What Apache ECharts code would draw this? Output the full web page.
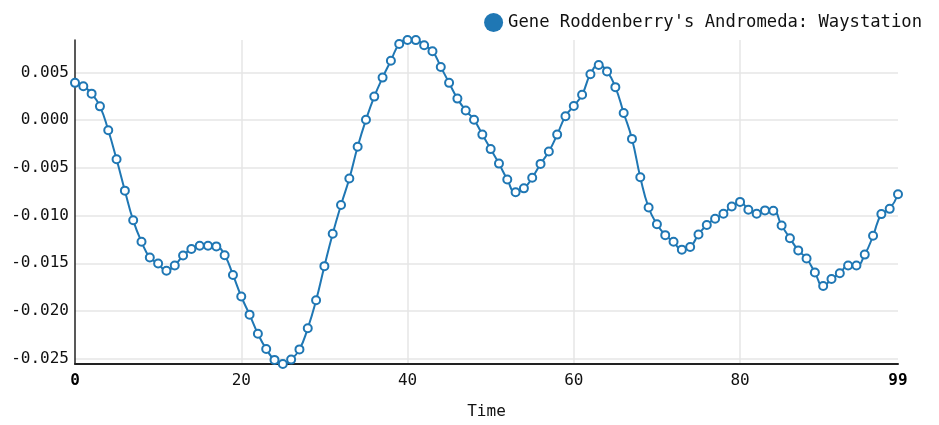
<!DOCTYPE html>
<html>
<head>
<meta charset="utf-8">
<script src="https://cdn.jsdelivr.net/npm/echarts@6/dist/echarts.min.js"></script>
<style>html,body{margin:0;padding:0;background:#fff;}#chart{width:939px;height:425px;}</style>
</head>
<body>
<div id="chart"></div>
<script>
const seriesName = "Gene Roddenberry's Andromeda: Waystation";
const xLabel = "Time";
const timeValues = [];
for (let i = 0; i < 100; i++) timeValues.push(i);
const waystation = [
  0.00390, 0.00355, 0.00277, 0.00144, -0.00107, -0.00411, -0.00739, -0.01050, -0.01275, -0.01440,
  -0.01502, -0.01579, -0.01523, -0.01419, -0.01350, -0.01316, -0.01316, -0.01323, -0.01416, -0.01622,
  -0.01848, -0.02038, -0.02239, -0.02398, -0.02512, -0.02555, -0.02509, -0.02402, -0.02180, -0.01888,
  -0.01530, -0.01191, -0.00889, -0.00612, -0.00280, 0.00003, 0.00246, 0.00445, 0.00622, 0.00797,
  0.00839, 0.00838, 0.00784, 0.00722, 0.00557, 0.00390, 0.00225, 0.00100, 0.00003, -0.00152,
  -0.00304, -0.00456, -0.00622, -0.00756, -0.00715, -0.00604, -0.00459, -0.00329, -0.00152, 0.00041,
  0.00148, 0.00266, 0.00480, 0.00577, 0.00510, 0.00345, 0.00075, -0.00197, -0.00598, -0.00916,
  -0.01091, -0.01205, -0.01275, -0.01357, -0.01330, -0.01198, -0.01098, -0.01033, -0.00981, -0.00905,
  -0.00857, -0.00940, -0.00981, -0.00946, -0.00950, -0.01105, -0.01237, -0.01365, -0.01450, -0.01596,
  -0.01738, -0.01665, -0.01605, -0.01523, -0.01523, -0.01409, -0.01212, -0.00985, -0.00930, -0.00777
];
const xMin = 0, xMax = 99, xInterval = 20;

const chart = echarts.init(document.getElementById('chart'));
const font = 'DejaVu Sans Mono';
const data = timeValues.map((t, i) => [t, waystation[i]]);
const yMin = Math.min(...waystation), yMax = Math.max(...waystation);
chart.setOption({
  animation: false,
  textStyle: { fontFamily: font },
  legend: {
    right: 12, top: 8,
    icon: 'circle', itemWidth: 19, itemHeight: 19, itemGap: 3,
    textStyle: { fontFamily: font, fontSize: 17.2, color: '#111' },
    data: [seriesName]
  },
  grid: { left: 75, right: 41, top: 40, bottom: 57, containLabel: false },
  xAxis: {
    type: 'value', min: xMin, max: xMax, interval: xInterval,
    name: xLabel, nameLocation: 'middle', nameGap: 40,
    nameTextStyle: { fontFamily: font, fontSize: 16, color: '#111' },
    axisLine: { show: true, onZero: false, lineStyle: { color: '#222', width: 2 } },
    axisTick: { show: false },
    axisLabel: {
      fontFamily: font, fontSize: 16, color: '#111', margin: 9,
      formatter: function (v) { return (v === xMin || v === xMax) ? '{b|' + v + '}' : '' + v; },
      rich: { b: { fontFamily: font, fontSize: 16, fontWeight: 'bold', color: '#000' } }
    },
    splitLine: { show: true, showMinLine: false, showMaxLine: false, lineStyle: { color: '#e6e6e6', width: 1.5 } }
  },
  yAxis: {
    type: 'value', min: yMin, max: yMax, splitNumber: 6,
    axisLine: { show: true, onZero: false, lineStyle: { color: '#222', width: 1.5 } },
    axisTick: { show: false },
    axisLabel: {
      fontFamily: font, fontSize: 16, color: '#111', margin: 6,
      showMinLabel: false, showMaxLabel: false,
      formatter: function (v) { return v.toFixed(3); }
    },
    splitLine: { show: true, showMinLine: false, showMaxLine: false, lineStyle: { color: '#e6e6e6', width: 1.5 } }
  },
  series: [{
    name: seriesName, type: 'line', data: data, smooth: 0.5,
    symbol: 'emptyCircle', symbolSize: 8,
    itemStyle: { color: '#1f77b4', borderWidth: 1.5 },
    lineStyle: { color: '#1f77b4', width: 2 }
  }]
});
</script>
</body>
</html>
